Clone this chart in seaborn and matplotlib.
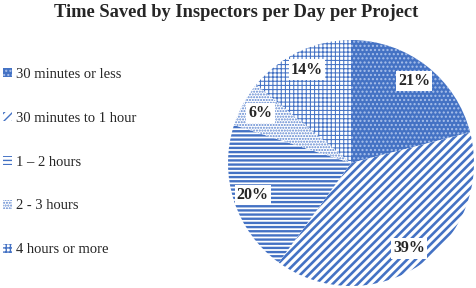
import matplotlib
matplotlib.use("Agg")
import matplotlib.pyplot as plt
import seaborn as sns
from matplotlib.patches import Patch

sns.set_theme(style="white")
plt.rcParams['font.family'] = ['Liberation Serif', 'DejaVu Serif']
plt.rcParams['hatch.linewidth'] = 1.0

categories = ["30 minutes or less", "30 minutes to 1 hour", "1 \u2013 2 hours", "2 - 3 hours", "4 hours or more"]
values = [21, 39, 20, 6, 14]
pct_labels = ["21%", "39%", "20%", "6%", "14%"]

blue = "#4472C4"
faces = [blue, "white", "white", "white", "white"]
edges = ["#A9C0EA", blue, blue, "#5B84CF", blue]
hatches = ["....", "////", "----", "......", "++++"]
hatch_lw = [1.0, 1.9, 1.7, 1.0, 0.75]

fig = plt.figure(figsize=(4.77, 2.88), dpi=100)
ax = fig.add_axes([(351 - 123) / 477, (288 - 163 - 123) / 288, 246 / 477, 246 / 288])

wedges, texts = ax.pie(values, startangle=90, counterclock=False,
                       labels=pct_labels, labeldistance=0.84,
                       wedgeprops=dict(linewidth=0))
for w, fc, ec, h, lw in zip(wedges, faces, edges, hatches, hatch_lw):
    w.set_facecolor(fc)
    w.set_edgecolor(ec)
    w.set_hatch(h)
    if hasattr(w, "set_hatch_linewidth"):
        w.set_hatch_linewidth(lw)
for t in texts:
    t.set_ha("center")
    t.set_va("center")
    t.set_fontsize(11.5)
    t.set_fontweight("bold")
    t.set_bbox(dict(facecolor="white", edgecolor="none", pad=1.5))
ax.set_xlim(-1.0, 1.0)
ax.set_ylim(-1.0, 1.0)
ax.set_aspect("equal")

fig.suptitle("Time Saved by Inspectors per Day per Project", x=0.495, y=0.985,
             fontsize=13.3, fontweight="bold")

handles = [Patch(facecolor=fc, edgecolor=ec, hatch=h, linewidth=0)
           for fc, ec, h in zip(faces, edges, hatches)]
fig.legend(handles, categories, loc="upper left", bbox_to_anchor=(0.0, 0.775),
           frameon=False, fontsize=10.5, handlelength=0.6, handleheight=0.6,
           handletextpad=0.3, labelspacing=2.12, borderaxespad=0, borderpad=0.2)

fig.savefig("out.png", dpi=100)
